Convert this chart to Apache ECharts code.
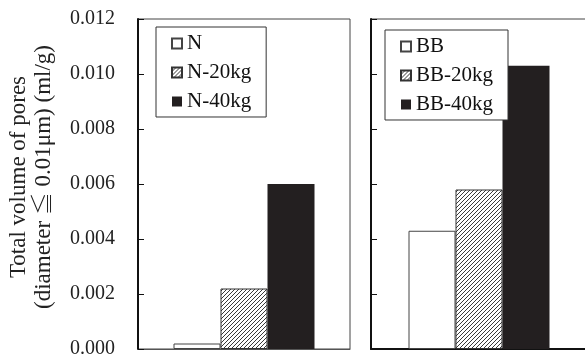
<!DOCTYPE html>
<html>
<head>
<meta charset="utf-8">
<script src="https://cdn.jsdelivr.net/npm/echarts@6/dist/echarts.min.js"></script>
<style>html,body{margin:0;padding:0;background:#fff}#c{width:585px;height:354px}</style>
</head>
<body>
<div id="c"></div>
<script>
// ---- data ----
const panels = ['N', 'BB'];
const seriesN = ['N', 'N-20kg', 'N-40kg'];
const valuesN = [0.0002, 0.0022, 0.0060];
const seriesBB = ['BB', 'BB-20kg', 'BB-40kg'];
const valuesBB = [0.0043, 0.0058, 0.0103];
const yMin = 0, yMax = 0.012, yStep = 0.002;
const yTitle = 'Total volume of pores\n(diameter \u2266 0.01\u03bcm) (ml/g)';

// ---- styles ----
const FONT = "'Liberation Serif', 'Times New Roman', 'Noto Serif CJK JP', 'Noto Sans CJK JP', serif";
function hatch() {
  const s = 4, c = document.createElement('canvas');
  c.width = s; c.height = s;
  const g = c.getContext('2d');
  g.fillStyle = '#fff'; g.fillRect(0, 0, s, s);
  g.strokeStyle = '#3a3a3a'; g.lineWidth = 1;
  g.beginPath();
  g.moveTo(0, s); g.lineTo(s, 0);
  g.moveTo(-1, 1); g.lineTo(1, -1);
  g.moveTo(s - 1, s + 1); g.lineTo(s + 1, s - 1);
  g.stroke();
  return { image: c, repeat: 'repeat' };
}
const styles = [
  { color: '#ffffff', borderColor: '#444', borderWidth: 1 },
  { color: hatch(), borderColor: '#333', borderWidth: 1 },
  { color: '#231f20', borderColor: '#231f20', borderWidth: 0 }
];

const grids = [
  { left: 138, top: 19, width: 212, height: 330 },
  { left: 371, top: 19, width: 216, height: 330 }
];

function yAxis(i, showLabel) {
  return {
    type: 'value', gridIndex: i, min: yMin, max: yMax, interval: yStep,
    axisLine: { show: true, lineStyle: { color: '#111', width: 2 } },
    axisTick: { show: true, inside: true, length: 6, lineStyle: { color: '#111', width: 1 } },
    splitLine: { show: false },
    axisLabel: {
      show: showLabel, margin: 23, fontFamily: FONT, fontSize: 20, color: '#222',
      padding: [3, 0, 0, 0],
      formatter: v => v.toFixed(3)
    }
  };
}
function xAxis(i, name, col, w) {
  return {
    type: 'category', gridIndex: i, data: [name],
    axisLine: { show: true, lineStyle: { color: col, width: w } },
    axisTick: { show: false }, axisLabel: { show: false }
  };
}

const series = [];
[[seriesN, valuesN, 0], [seriesBB, valuesBB, 1]].forEach(([names, vals, gi]) => {
  names.forEach((n, k) => {
    series.push({
      type: 'bar', name: n, xAxisIndex: gi, yAxisIndex: gi,
      data: [vals[k]], barWidth: 47, barGap: '0%',
      itemStyle: styles[k], emphasis: { disabled: true }
    });
  });
});

function legend(names, left, top) {
  return {
    data: names, orient: 'vertical', left: left, top: top,
    backgroundColor: '#fff', borderColor: '#333', borderWidth: 1,
    padding: [6, 15, 5, 15], itemGap: 8, itemWidth: 10, itemHeight: 10,
    icon: 'rect', selectedMode: false,
    textStyle: { fontFamily: FONT, fontSize: 21, color: '#111' }
  };
}

const chart = echarts.init(document.getElementById('c'));
chart.setOption({
  animation: false,
  backgroundColor: '#fff',
  grid: grids.map(g => Object.assign({ show: true, borderColor: '#444', borderWidth: 1, containLabel: false, outerBoundsMode: 'none' }, g)),
  xAxis: [xAxis(0, panels[0], '#555', 1), xAxis(1, panels[1], '#111', 2)],
  yAxis: [yAxis(0, true), yAxis(1, false)],
  legend: [legend(seriesN, 156, 27), legend(seriesBB, 385, 30)],
  series: series,
  graphic: [{
    type: 'text', x: 31, y: 177, rotation: Math.PI / 2,
    style: {
      text: yTitle, fontFamily: FONT, fontSize: 23, lineHeight: 25,
      fill: '#222', align: 'center', verticalAlign: 'middle'
    }
  }]
});
</script>
</body>
</html>
